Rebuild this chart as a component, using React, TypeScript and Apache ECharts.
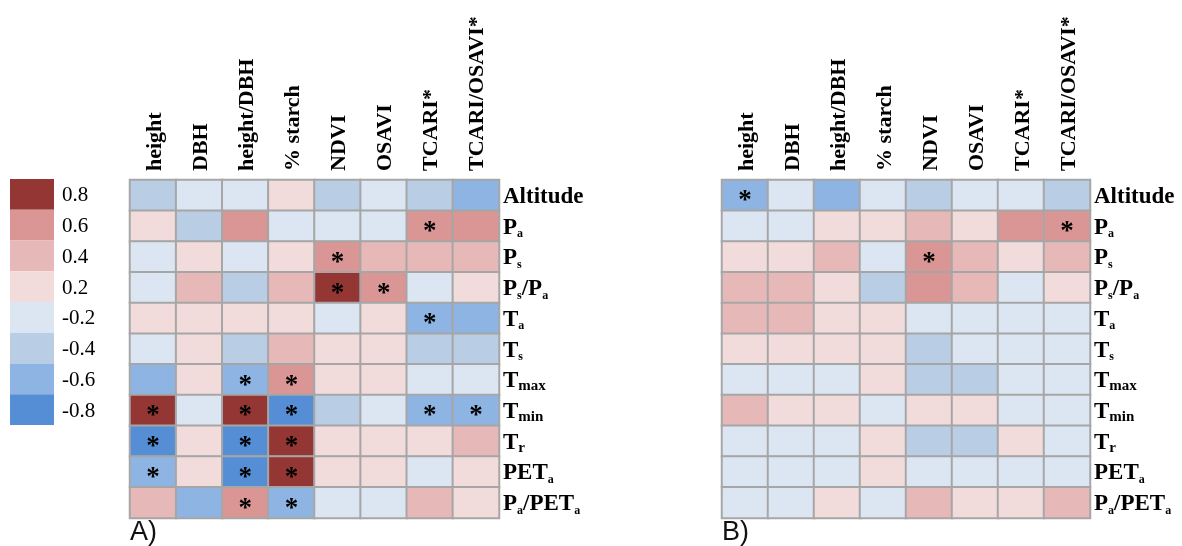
import React, { useEffect, useRef } from 'react';
import * as echarts from 'echarts';

const columns = ['height', 'DBH', 'height/DBH', '% starch', 'NDVI', 'OSAVI', 'TCARI*', 'TCARI/OSAVI*'];
const rows = ['Altitude', 'Pa', 'Ps', 'Ps/Pa', 'Ta', 'Ts', 'Tmax', 'Tmin', 'Tr', 'PETa', 'Pa/PETa'];
const rowsRich = ['Altitude', 'P{s|a}', 'P{s|s}', 'P{s|s}/P{s|a}', 'T{s|a}', 'T{s|s}', 'T{t|max}', 'T{t|min}', 'T{t|r}', 'PET{s|a}', 'P{s|a}/PET{s|a}'];

const legendLabels = ['0.8', '0.6', '0.4', '0.2', '-0.2', '-0.4', '-0.6', '-0.8'];
const legendColors = ['#943634', '#d99694', '#e6b9b8', '#f2dcdb', '#dce6f2', '#b9cde5', '#8eb4e3', '#558ed5'];

// Panel A correlations (rows x columns)
const corrA = [
  [-0.4, -0.2, -0.2, 0.2, -0.4, -0.2, -0.4, -0.6],
  [0.2, -0.4, 0.6, -0.2, -0.2, -0.2, 0.6, 0.6],
  [-0.2, 0.2, -0.2, 0.2, 0.6, 0.4, 0.4, 0.4],
  [-0.2, 0.4, -0.4, 0.4, 0.8, 0.6, -0.2, 0.2],
  [0.2, 0.2, 0.2, 0.2, -0.2, 0.2, -0.6, -0.6],
  [-0.2, 0.2, -0.4, 0.4, 0.2, 0.2, -0.4, -0.4],
  [-0.6, 0.2, -0.6, 0.6, 0.2, 0.2, -0.2, -0.2],
  [0.8, -0.2, 0.8, -0.8, -0.4, -0.2, -0.6, -0.6],
  [-0.8, 0.2, -0.8, 0.8, 0.2, 0.2, 0.2, 0.4],
  [-0.6, 0.2, -0.8, 0.8, 0.2, 0.2, -0.2, 0.2],
  [0.4, -0.6, 0.6, -0.6, -0.2, -0.2, 0.4, 0.2],
];
const sigA = [
  [0, 0, 0, 0, 0, 0, 0, 0],
  [0, 0, 0, 0, 0, 0, 1, 0],
  [0, 0, 0, 0, 1, 0, 0, 0],
  [0, 0, 0, 0, 1, 1, 0, 0],
  [0, 0, 0, 0, 0, 0, 1, 0],
  [0, 0, 0, 0, 0, 0, 0, 0],
  [0, 0, 1, 1, 0, 0, 0, 0],
  [1, 0, 1, 1, 0, 0, 1, 1],
  [1, 0, 1, 1, 0, 0, 0, 0],
  [1, 0, 1, 1, 0, 0, 0, 0],
  [0, 0, 1, 1, 0, 0, 0, 0],
];

// Panel B correlations (rows x columns)
const corrB = [
  [-0.6, -0.2, -0.6, -0.2, -0.4, -0.2, -0.2, -0.4],
  [-0.2, -0.2, 0.2, 0.2, 0.4, 0.2, 0.6, 0.6],
  [0.2, 0.2, 0.4, -0.2, 0.6, 0.4, 0.2, 0.4],
  [0.4, 0.4, 0.2, -0.4, 0.6, 0.4, -0.2, 0.2],
  [0.4, 0.4, 0.2, 0.2, -0.2, -0.2, -0.2, -0.2],
  [0.2, 0.2, 0.2, 0.2, -0.4, -0.2, -0.2, -0.2],
  [-0.2, -0.2, -0.2, 0.2, -0.4, -0.4, -0.2, -0.2],
  [0.4, 0.2, 0.2, -0.2, 0.2, 0.2, -0.2, -0.2],
  [-0.2, -0.2, -0.2, 0.2, -0.4, -0.4, 0.2, -0.2],
  [-0.2, -0.2, -0.2, 0.2, -0.2, -0.2, -0.2, -0.2],
  [-0.2, -0.2, 0.2, -0.2, 0.4, 0.2, 0.2, 0.4],
];
const sigB = [
  [1, 0, 0, 0, 0, 0, 0, 0],
  [0, 0, 0, 0, 0, 0, 0, 1],
  [0, 0, 0, 0, 1, 0, 0, 0],
  [0, 0, 0, 0, 0, 0, 0, 0],
  [0, 0, 0, 0, 0, 0, 0, 0],
  [0, 0, 0, 0, 0, 0, 0, 0],
  [0, 0, 0, 0, 0, 0, 0, 0],
  [0, 0, 0, 0, 0, 0, 0, 0],
  [0, 0, 0, 0, 0, 0, 0, 0],
  [0, 0, 0, 0, 0, 0, 0, 0],
  [0, 0, 0, 0, 0, 0, 0, 0],
];

const SERIF = 'Liberation Serif';

function toData(corr: number[][], sig: number[][]) {
  const out: any[] = [];
  corr.forEach((row, r) => row.forEach((v, c) => out.push([c, r, v, sig[r][c]])));
  return out;
}

const pieceBounds = [
  { gte: 0.7 },
  { gte: 0.5, lt: 0.7 },
  { gte: 0.3, lt: 0.5 },
  { gte: 0, lt: 0.3 },
  { gte: -0.3, lt: 0 },
  { gte: -0.5, lt: -0.3 },
  { gte: -0.7, lt: -0.5 },
  { lt: -0.7 },
];

export default function App() {
  const ref = useRef<HTMLDivElement>(null);
  useEffect(() => {
    if (!ref.current) return;
    const chart = echarts.init(ref.current, null, { renderer: 'svg' });
    const grids = [
      { left: 130, top: 180, width: 369, height: 338 },
      { left: 722, top: 180, width: 368, height: 338 },
    ];
    const xAxes: any[] = [];
    const yAxes: any[] = [];
    grids.forEach((_, i) => {
      xAxes.push({
        type: 'category', gridIndex: i, position: 'top', data: columns,
        axisLine: { show: true, lineStyle: { color: '#000', width: 2 } },
        axisTick: { show: false }, splitLine: { show: false },
        axisLabel: { rotate: -90, margin: 9, interval: 0, fontFamily: SERIF, fontSize: 22, fontWeight: 'bold', color: '#000' },
      });
      xAxes.push({
        type: 'category', gridIndex: i, position: 'bottom', data: columns,
        axisLine: { show: true, lineStyle: { color: '#404040', width: 2 } },
        axisTick: { show: false }, axisLabel: { show: false }, splitLine: { show: false },
      });
      yAxes.push({
        type: 'category', gridIndex: i, position: 'right', inverse: true, data: rows,
        axisLine: { show: false }, axisTick: { show: false }, splitLine: { show: false },
        axisLabel: {
          margin: 4, interval: 0, fontFamily: SERIF, fontSize: 23, fontWeight: 'bold', color: '#000', lineHeight: 26,
          formatter: (_v: string, idx: number) => rowsRich[idx],
          rich: {
            s: { fontFamily: SERIF, fontSize: 12, fontWeight: 'bold', color: '#000', lineHeight: 14, verticalAlign: 'bottom' },
            t: { fontFamily: SERIF, fontSize: 15, fontWeight: 'bold', color: '#000', lineHeight: 16, verticalAlign: 'bottom' },
          },
        },
      });
    });
    const mkSeries = (data: any[], xi: number, yi: number) => ({
      type: 'heatmap', xAxisIndex: xi, yAxisIndex: yi, data,
      itemStyle: { borderColor: '#a6a6a6', borderWidth: 2 },
      label: {
        show: true, fontFamily: SERIF, fontSize: 27, fontWeight: 'bold', color: '#000', offset: [0, 4],
        formatter: (p: any) => (p.data[3] ? '*' : ''),
      },
      emphasis: { disabled: true },
    });
    chart.setOption({
      animation: false,
      grid: grids,
      xAxis: xAxes,
      yAxis: yAxes,
      visualMap: {
        type: 'piecewise', seriesIndex: [0, 1], dimension: 2,
        orient: 'vertical', left: 10, top: 179, padding: 0,
        itemWidth: 44, itemHeight: 30.75, itemGap: 0, textGap: 8, itemSymbol: 'rect',
        hoverLink: false, selectedMode: false,
        textStyle: { fontFamily: SERIF, fontSize: 21, color: '#000' },
        pieces: pieceBounds.map((b, i) => ({ ...b, label: legendLabels[i], color: legendColors[i] })),
      },
      graphic: [
        { type: 'text', left: 130, top: 517, style: { text: 'A)', fontFamily: 'Liberation Sans', fontSize: 27, fill: '#111' } },
        { type: 'text', left: 722, top: 517, style: { text: 'B)', fontFamily: 'Liberation Sans', fontSize: 27, fill: '#111' } },
      ],
      series: [mkSeries(toData(corrA, sigA), 0, 0), mkSeries(toData(corrB, sigB), 2, 1)],
    });
    return () => chart.dispose();
  }, []);
  return <div ref={ref} style={{ position: 'fixed', left: 0, top: 0, width: 1182, height: 546 }} />;
}
